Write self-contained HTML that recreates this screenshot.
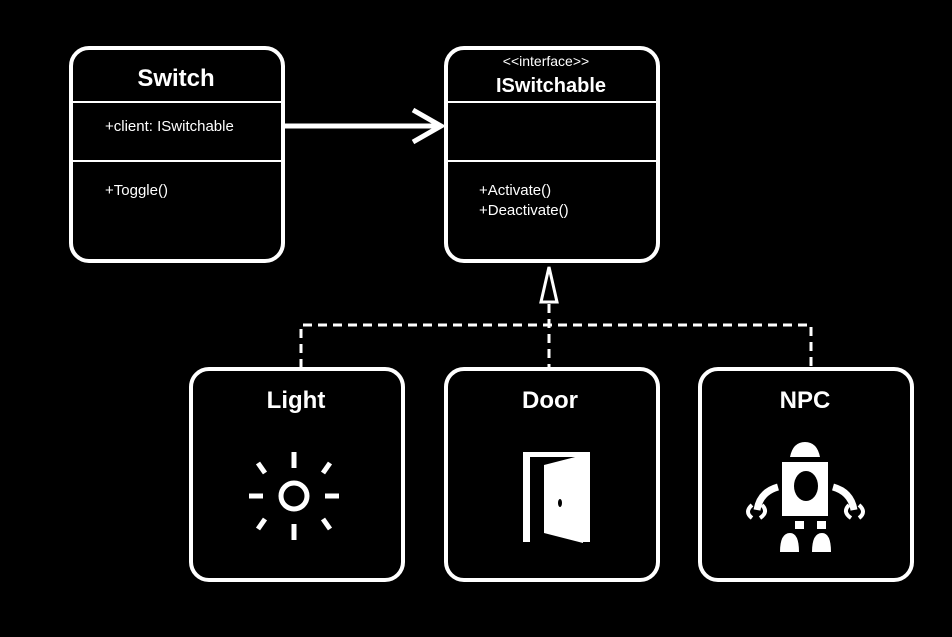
<!DOCTYPE html>
<html><head><style>
body{margin:0;background:#000;width:952px;height:637px;overflow:hidden}
svg{display:block}
text{font-family:"Liberation Sans",sans-serif;fill:#fff}
</style></head><body>
<svg width="952" height="637" viewBox="0 0 952 637">
<g fill="none" stroke="#fff" stroke-width="4">
<rect x="71" y="48" width="212" height="213" rx="18"/>
<rect x="446" y="48" width="212" height="213" rx="18"/>
<rect x="191" y="369" width="212" height="211" rx="18"/>
<rect x="446" y="369" width="212" height="211" rx="18"/>
<rect x="700" y="369" width="212" height="211" rx="18"/>
</g>
<g stroke="#fff" stroke-width="2">
<line x1="71" y1="102" x2="283" y2="102"/><line x1="71" y1="161" x2="283" y2="161"/>
<line x1="446" y1="102" x2="658" y2="102"/><line x1="446" y1="161" x2="658" y2="161"/>
</g>
<g stroke="#fff" stroke-width="5" fill="none">
<line x1="283" y1="126" x2="440" y2="126"/>
<polyline points="413,110 441,126 413,142" stroke-linejoin="miter"/>
</g>
<g stroke="#fff" stroke-width="3" fill="none" stroke-dasharray="9,6">
<polyline points="301,368 301,325 811,325 811,368"/>
<line x1="549" y1="304" x2="549" y2="368"/>
</g>
<polygon points="549,267 541,302 557,302" fill="#000" stroke="#fff" stroke-width="3"/>
<text x="176" y="86" font-size="24" font-weight="bold" text-anchor="middle">Switch</text>
<text x="105" y="131" font-size="15">+client: ISwitchable</text>
<text x="105" y="195" font-size="15">+Toggle()</text>
<text x="546" y="66" font-size="14" text-anchor="middle">&lt;&lt;interface&gt;&gt;</text>
<text x="551" y="92" font-size="20" font-weight="bold" text-anchor="middle">ISwitchable</text>
<text x="479" y="195" font-size="15">+Activate()</text>
<text x="479" y="215" font-size="15">+Deactivate()</text>
<text x="296" y="408" font-size="24" font-weight="bold" text-anchor="middle">Light</text>
<text x="550" y="408" font-size="24" font-weight="bold" text-anchor="middle">Door</text>
<text x="805" y="408" font-size="24" font-weight="bold" text-anchor="middle">NPC</text>
<!-- sun -->
<g stroke="#fff" stroke-width="5">
<circle cx="294" cy="496" r="13" fill="none"/>
<line x1="294" y1="452" x2="294" y2="468"/><line x1="294" y1="524" x2="294" y2="540"/>
<line x1="249" y1="496" x2="263" y2="496"/><line x1="325" y1="496" x2="339" y2="496"/>
<line x1="265" y1="473" x2="258" y2="463"/><line x1="323" y1="473" x2="330" y2="463"/>
<line x1="265" y1="519" x2="258" y2="529"/><line x1="323" y1="519" x2="330" y2="529"/>
</g>
<!-- door -->
<path d="M523 542 V452 H590 V542 H583 V457 H530 V542 Z" fill="#fff"/>
<path d="M544 465 L583 455 V543 L544 533 Z" fill="#fff"/>
<ellipse cx="560" cy="503" rx="2" ry="4" fill="#000"/>
<!-- robot -->
<g fill="#fff">
<path d="M790 457 Q793 442 805 442 Q817 442 820 457 Z"/>
<rect x="782" y="462" width="46" height="54"/>
<rect x="795" y="521" width="9" height="8"/><rect x="817" y="521" width="9" height="8"/>
<path d="M780 552 Q780 533 790 533 Q799 533 799 552 Z"/>
<path d="M812 552 Q812 533 822 533 Q831 533 831 552 Z"/>
</g>
<g fill="none" stroke="#fff" stroke-width="7">
<path d="M778 487 Q760 492 757 510"/>
<path d="M833 487 Q851 492 854 510"/>
</g>
<g fill="none" stroke="#fff" stroke-width="4">
<path d="M752 505 Q744 512 752 518"/><path d="M762 505 Q769 512 760 518"/>
<path d="M849 505 Q842 512 851 518"/><path d="M859 505 Q867 512 859 518"/>
</g>
<ellipse cx="806" cy="486" rx="12" ry="15" fill="#000"/>
</svg>
</body></html>
